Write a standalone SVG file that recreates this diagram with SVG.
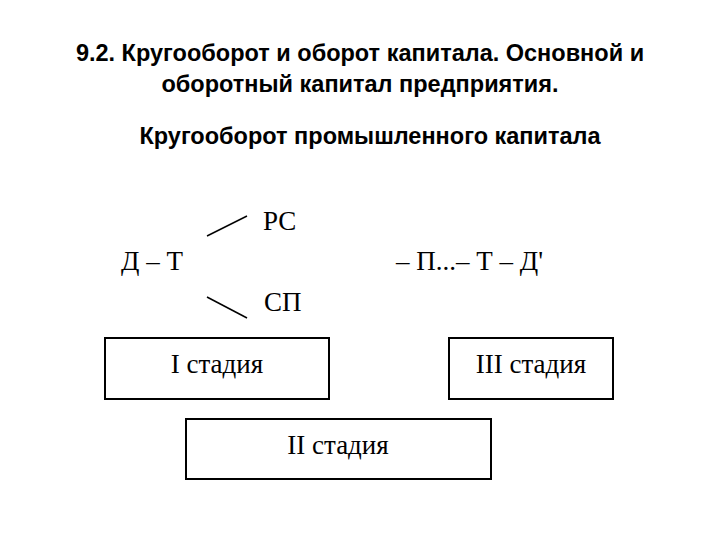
<svg xmlns="http://www.w3.org/2000/svg" width="720" height="540" viewBox="0 0 720 540">
<style>
.t{font-family:"Liberation Sans",Arial,sans-serif;font-weight:bold;font-size:23.5px;text-anchor:middle;fill:#000}
.s{font-family:"Liberation Serif","Times New Roman",serif;font-size:27px;fill:#000}
.b{fill:#fff;stroke:#000;stroke-width:2}
.l{stroke:#000;stroke-width:1.5}
</style>
<rect width="720" height="540" fill="#fff"/>
<text class="t" x="360" y="61">9.2. Кругооборот и оборот капитала. Основной и</text>
<text class="t" x="360" y="92">оборотный капитал предприятия.</text>
<text class="t" x="370" y="144">Кругооборот промышленного капитала</text>
<g id="formula">
<text class="s" x="263" y="230">РС</text>
<text class="s" x="121" y="270">Д – Т</text>
<text class="s" x="396" y="270">– П...– Т – Д'</text>
<text class="s" x="264" y="311">СП</text>
</g>
<g id="connectors">
<line class="l" x1="207" y1="236" x2="247" y2="216"/>
<line class="l" x1="207" y1="297" x2="247" y2="318"/>
</g>
<g id="stage1"><rect class="b" x="105" y="338" width="224" height="61"/><text class="s" x="217" y="373" text-anchor="middle">I стадия</text></g>
<g id="stage3"><rect class="b" x="449" y="338" width="164" height="61"/><text class="s" x="531" y="373" text-anchor="middle">III стадия</text></g>
<g id="stage2"><rect class="b" x="186" y="419" width="305" height="60"/><text class="s" x="338" y="454" text-anchor="middle">II стадия</text></g>
</svg>
